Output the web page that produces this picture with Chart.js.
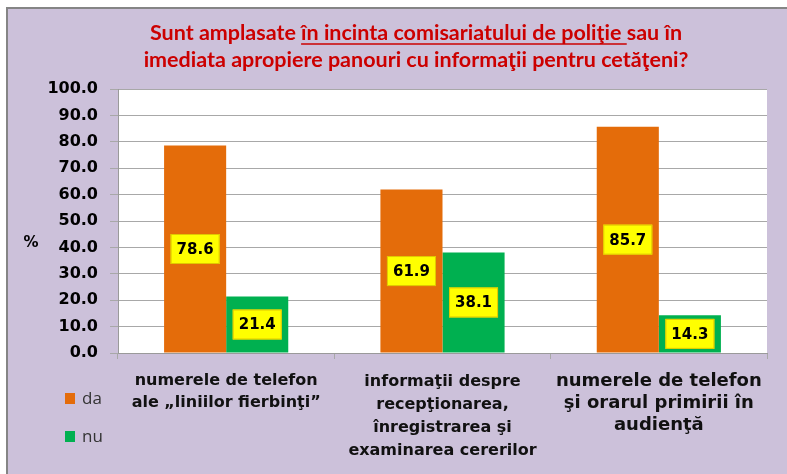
<!DOCTYPE html>
<html><head><meta charset="utf-8">
<script src="https://cdn.jsdelivr.net/npm/chart.js@4"></script>
<style>html,body{margin:0;padding:0;background:#fff;overflow:hidden}#wrap{width:787px;height:474px;position:relative}</style>
</head><body><div id="wrap"><canvas id="c"></canvas></div>
<script>
const titleLines = ["Sunt amplasate în incinta comisariatului de poliţie sau în", "imediata apropiere panouri cu informaţii pentru cetăţeni?"];
const titlePrefix = "Sunt amplasate ";
const titleUnderlined = "în incinta comisariatului de poliţie ";
const categories = [
  ["numerele de telefon", "ale „liniilor fierbinţi”"],
  ["informaţii despre", "recepţionarea,", "înregistrarea şi", "examinarea cererilor"],
  ["numerele de telefon", "şi orarul primirii în", "audienţă"]
];
const seriesNames = ["da", "nu"];
const daValues = [78.6, 61.9, 85.7];
const nuValues = [21.4, 38.1, 14.3];
const yMin = 0, yMax = 100, yStep = 10;
const yAxisTitle = "%";

const BG = '#CCC1DA';
const ORANGE = '#E46C0A';
const GREEN = '#00B050';
const GRID = '#A8A8A8';

const decor = {
  id: 'decor',
  beforeDraw(chart) {
    const ctx = chart.ctx, W = chart.width, H = chart.height;
    ctx.save();
    ctx.fillStyle = '#ffffff';
    ctx.fillRect(0, 0, W, H);
    ctx.fillStyle = BG;
    ctx.fillRect(6, 7, W - 6, H - 7);
    ctx.fillStyle = '#858585';
    ctx.fillRect(6, 7, 2, H - 7);
    ctx.fillRect(6, 7, W - 6, 2);
    const a = chart.chartArea;
    ctx.fillStyle = '#ffffff';
    ctx.fillRect(a.left, a.top, a.right - a.left, a.bottom - a.top);
    ctx.restore();
  },
  afterDatasetsDraw(chart) {
    const ctx = chart.ctx;
    ctx.save();
    ctx.font = 'bold 15px "DejaVu Sans"';
    ctx.textAlign = 'center';
    ctx.textBaseline = 'middle';
    chart.data.datasets.forEach((ds, di) => {
      const meta = chart.getDatasetMeta(di);
      meta.data.forEach((bar, i) => {
        const txt = ds.data[i].toFixed(1);
        const w = ctx.measureText(txt).width + 12;
        const h = 30;
        const cy = (bar.y + bar.base) / 2;
        ctx.fillStyle = '#FFFF00';
        ctx.fillRect(bar.x - w / 2, cy - h / 2, w, h);
        ctx.strokeStyle = '#E0C800';
        ctx.lineWidth = 1;
        ctx.strokeRect(bar.x - w / 2 + 0.5, cy - h / 2 + 0.5, w - 1, h - 1);
        ctx.fillStyle = '#000';
        ctx.fillText(txt, bar.x, cy + 1);
      });
    });
    ctx.restore();
  },
  afterDraw(chart) {
    const ctx = chart.ctx;
    ctx.save();
    // title
    const cx = 416;
    ctx.font = 'bold 21.5px Lato';
    ctx.fillStyle = '#CC0000';
    ctx.textAlign = 'center';
    ctx.textBaseline = 'middle';
    ctx.fillText(titleLines[0], cx, 33);
    ctx.fillText(titleLines[1], cx, 60);
    const full = ctx.measureText(titleLines[0]).width;
    const pre = ctx.measureText(titlePrefix).width;
    const ul = ctx.measureText(titleUnderlined).width;
    const sx = cx - full / 2 + pre;
    ctx.strokeStyle = '#CC0000';
    ctx.lineWidth = 1.5;
    ctx.beginPath();
    ctx.moveTo(sx, 44);
    ctx.lineTo(sx + ul, 44);
    ctx.stroke();
    // y axis title
    ctx.font = 'bold 15px "DejaVu Sans"';
    ctx.fillStyle = '#000';
    ctx.fillText(yAxisTitle, 31, 243);
    // legend
    ctx.textAlign = 'left';
    ctx.font = '17px "Open Sans"';
    chart.data.datasets.forEach((ds, i) => {
      const y = 399 + i * 38;
      ctx.fillStyle = ds.backgroundColor;
      ctx.fillRect(65, y - 6, 10, 11);
      ctx.fillStyle = '#333';
      ctx.fillText(ds.label, 82, y);
    });
    ctx.restore();
  }
};

new Chart(document.getElementById('c'), {
  type: 'bar',
  data: {
    labels: categories,
    datasets: [
      { label: seriesNames[0], data: daValues, backgroundColor: ORANGE },
      { label: seriesNames[1], data: nuValues, backgroundColor: GREEN }
    ]
  },
  options: {
    responsive: true,
    maintainAspectRatio: false,
    animation: false,
    events: [],
    layout: { padding: { top: 89, right: 20, left: 0, bottom: 0 } },
    datasets: { bar: { categoryPercentage: 0.574, barPercentage: 1.0 } },
    plugins: { legend: { display: false }, title: { display: false }, tooltip: { enabled: false } },
    scales: {
      x: {
        afterFit(s) { s.height = 121; },
        grid: { display: true, drawOnChartArea: false, tickLength: 6, color: GRID, offset: true },
        border: { color: '#9A9A9A', width: 1 },
        ticks: {
          autoSkip: false, maxRotation: 0, minRotation: 0, padding: 11,
          color: '#111',
          font: (c) => {
            const i = c.index;
            if (i === 2) return { family: '"DejaVu Sans"', size: 18, weight: 'bold', lineHeight: '22px' };
            if (i === 1) return { family: '"DejaVu Sans"', size: 16, weight: 'bold', lineHeight: '23px' };
            return { family: '"DejaVu Sans"', size: 16, weight: 'bold', lineHeight: '22px' };
          }
        }
      },
      y: {
        min: yMin, max: yMax,
        afterFit(s) { s.width = 118; },
        grid: { color: GRID, tickLength: 8, tickColor: GRID },
        border: { color: '#9A9A9A', width: 1 },
        ticks: {
          stepSize: yStep, padding: 12, color: '#000',
          font: { family: '"DejaVu Sans"', size: 16, weight: 'bold' },
          callback: (v) => Number(v).toFixed(1)
        }
      }
    }
  },
  plugins: [decor]
});
</script>
</body></html>
